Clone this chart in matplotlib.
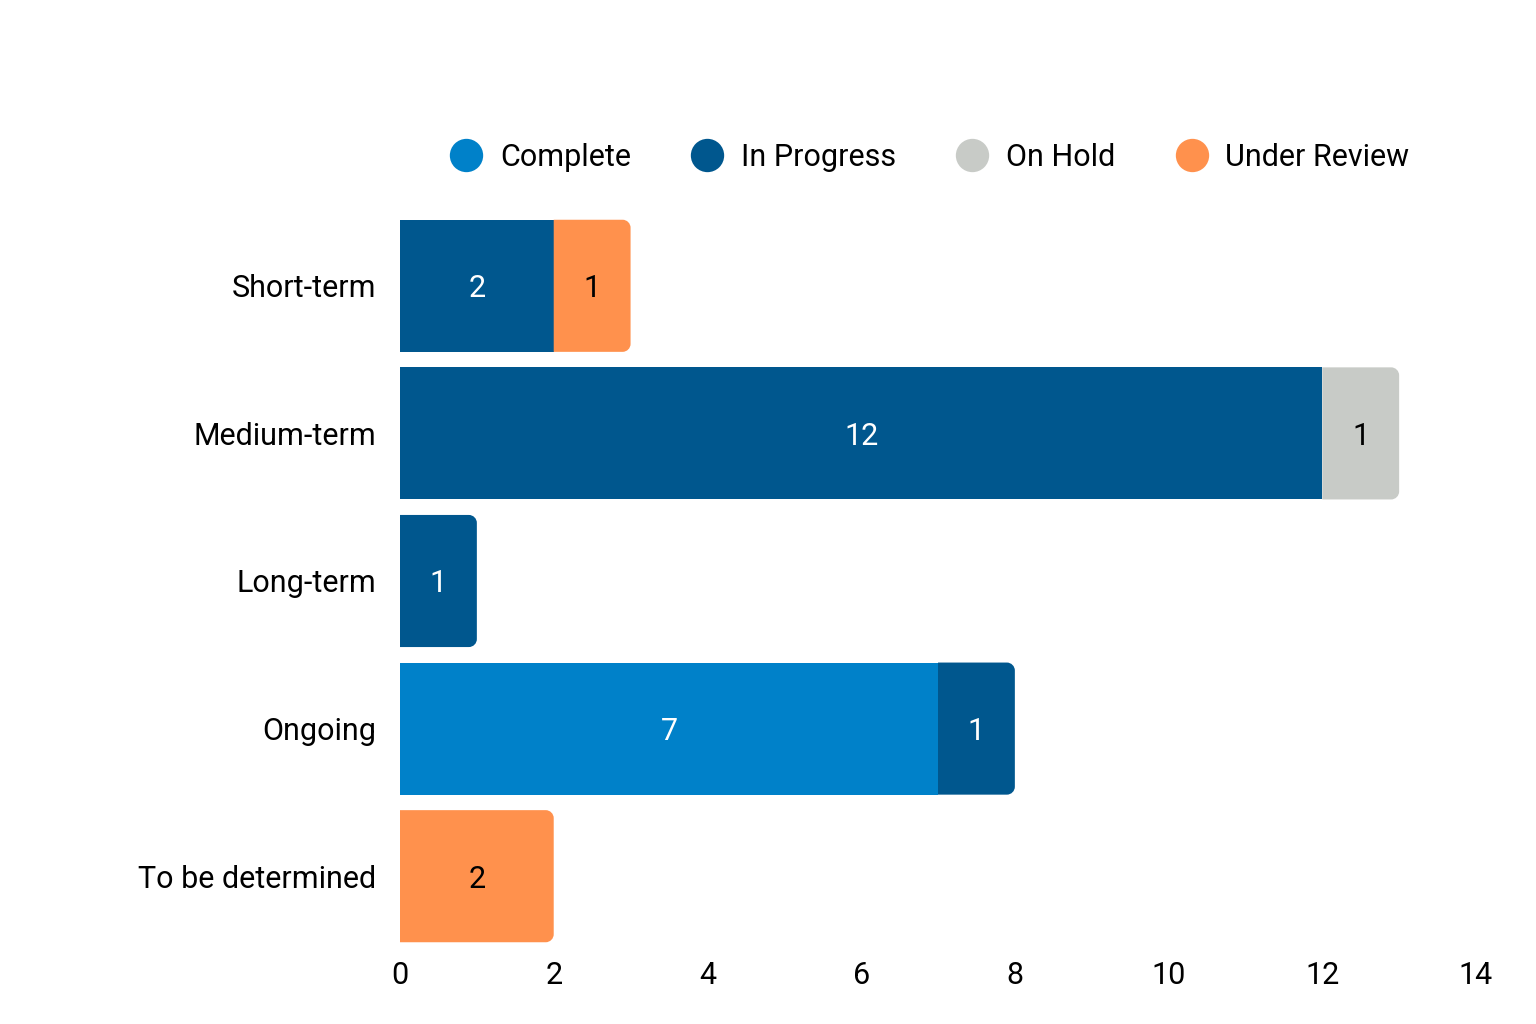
import matplotlib
matplotlib.use("Agg")
import matplotlib.pyplot as plt
from matplotlib.path import Path
from matplotlib.patches import PathPatch
from matplotlib.lines import Line2D
import numpy as np

plt.rcParams['font.family'] = ['Roboto', 'DejaVu Sans']

categories = ["Short-term", "Medium-term", "Long-term", "Ongoing", "To be determined"]
series_names = ["Complete", "In Progress", "On Hold", "Under Review"]
complete = [0, 0, 0, 7, 0]
in_progress = [2, 12, 1, 1, 0]
on_hold = [0, 1, 0, 0, 0]
under_review = [1, 0, 0, 0, 2]
series_values = [complete, in_progress, on_hold, under_review]
colors = ["#0081C9", "#00578E", "#C8CBC7", "#FF914D"]
label_colors = ["white", "white", "black", "black"]
x_ticks = [0, 2, 4, 6, 8, 10, 12, 14]

fig = plt.figure(figsize=(15.36, 10.24), dpi=100)
ax = fig.add_axes([400/1536, 1-950/1024, 1076/1536, (950-212)/1024])
ax.set_xlim(0, 14)
ax.set_ylim(len(categories)-0.5, -0.5)

bar_h = 0.895
ppu_x = 1076/14
ppu_y = (950-212)/5
r_px = 8
rx = r_px/ppu_x
ry = r_px/ppu_y


def rounded_right(x0, x1, yc, h, color):
    y0, y1 = yc - h/2, yc + h/2
    k = 0.5523
    verts = [(x0, y0), (x1-rx, y0),
             (x1-rx+k*rx, y0), (x1, y0+ry-k*ry), (x1, y0+ry),
             (x1, y1-ry),
             (x1, y1-ry+k*ry), (x1-rx+k*rx, y1), (x1-rx, y1),
             (x0, y1), (x0, y0)]
    codes = [Path.MOVETO, Path.LINETO,
             Path.CURVE4, Path.CURVE4, Path.CURVE4,
             Path.LINETO,
             Path.CURVE4, Path.CURVE4, Path.CURVE4,
             Path.LINETO, Path.CLOSEPOLY]
    ax.add_patch(PathPatch(Path(verts, codes), facecolor=color, edgecolor='none', zorder=2))


ypos = np.arange(len(categories))
for i in range(len(categories)):
    left = 0
    vals = [s[i] for s in series_values]
    last = max(j for j, v in enumerate(vals) if v > 0)
    for j, v in enumerate(vals):
        if v <= 0:
            continue
        if j == last:
            rounded_right(left, left + v, ypos[i], bar_h, colors[j])
        else:
            ax.barh(ypos[i], v, left=left, height=bar_h, color=colors[j], zorder=2, linewidth=0)
        ax.text(left + v/2, ypos[i], str(v), ha='center', va='center_baseline',
                color=label_colors[j], fontsize=22, zorder=3)
        left += v

ax.set_yticks(ypos)
ax.set_yticklabels(categories, fontsize=22)
ax.set_xticks(x_ticks)
ax.set_xticklabels([str(t) for t in x_ticks], fontsize=22)
ax.tick_params(axis='both', length=0)
ax.tick_params(axis='y', pad=17)
ax.tick_params(axis='x', pad=8)
for s in ax.spines.values():
    s.set_visible(False)

handles = [Line2D([], [], marker='o', linestyle='none', markersize=24,
                  markerfacecolor=c, markeredgecolor='none') for c in colors]
fig.legend(handles, series_names, loc='center', bbox_to_anchor=(930/1536, 1-157/1024),
           ncol=4, frameon=False, fontsize=22, handletextpad=0.6, columnspacing=2.0,
           handlelength=1.0)

fig.savefig("out.png", dpi=100, facecolor='white')
